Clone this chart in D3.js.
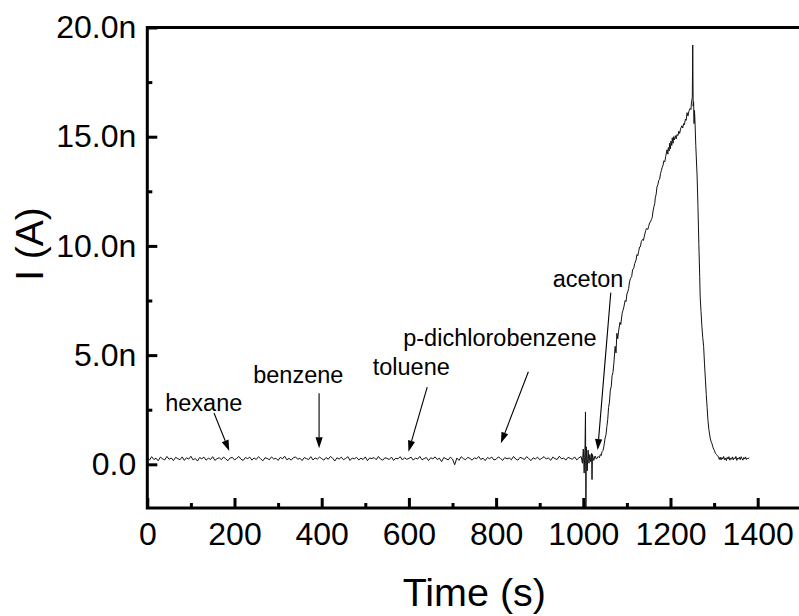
<!DOCTYPE html>
<html>
<head>
<meta charset="utf-8">
<script src="https://cdn.jsdelivr.net/npm/d3@7"></script>
<style>
  html, body { margin: 0; padding: 0; background: #fff; }
  svg { display: block; font-family: "Liberation Sans", Arial, sans-serif; }
</style>
</head>
<body>
<svg id="chart" width="799" height="616"></svg>
<script>
// Baseline current (nA) sampled every 5 s from t = 0 to t = 995 s
const baselineStep = 5;
const baselineCurrent = [
  0.31,0.19,0.35,0.22,0.28,0.16,0.33,0.25,0.20,0.36,0.23,0.29,0.17,0.32,0.26,0.21,0.34,0.18,0.30,0.24,
  0.37,0.20,0.27,0.15,0.31,0.25,0.33,0.19,0.28,0.22,0.35,0.18,0.26,0.30,0.21,0.34,0.24,0.17,0.29,0.32,
  0.20,0.27,0.36,0.23,0.18,0.31,0.26,0.33,0.19,0.29,0.22,0.35,0.25,0.16,0.30,0.27,0.21,0.34,0.24,0.28,
  0.18,0.32,0.25,0.37,0.21,0.27,0.19,0.30,0.34,0.23,0.28,0.17,0.31,0.26,0.22,0.35,0.20,0.29,0.24,0.33,
  0.26,0.19,0.31,0.23,0.36,0.28,0.15,0.30,0.24,0.33,0.21,0.27,0.35,0.18,0.29,0.25,0.32,0.20,0.28,0.22,
  0.34,0.17,0.29,0.26,0.31,0.21,0.36,0.24,0.19,0.30,0.27,0.22,0.33,0.18,0.28,0.25,0.35,0.20,0.30,0.23,
  0.27,0.33,0.19,0.29,0.24,0.36,0.21,0.26,0.31,0.17,0.30,0.25,0.34,0.22,0.28,0.12,0.31,0.26,0.20,0.33,
  0.24,-0.02,0.29,0.18,0.35,0.26,0.21,0.32,0.27,0.19,0.30,0.25,0.36,0.22,0.28,0.17,0.31,0.26,0.33,0.20,
  0.23,0.34,0.27,0.18,0.31,0.25,0.29,0.21,0.36,0.24,0.19,0.32,0.28,0.22,0.35,0.26,0.17,0.30,0.24,0.33,
  0.21,0.28,0.35,0.24,0.30,0.18,0.33,0.26,0.22,0.37,0.25,0.29,0.19,0.32,0.27,0.23,0.34,0.20,0.30,0.36
];

// Switching disturbance around t = 1000 s  [time s, current nA]
const switchingTrace = [
  [998,0.05],[1000,0.70],[1002,-0.40],[1004,0.90],[1005,2.40],[1006,-2.00],[1007,0.80],
  [1009,-0.30],[1011,0.65],[1013,0.05],[1015,0.45],[1017,0.12],[1019,0.50],[1020,-0.70],[1021,0.45],
  [1024,0.18],[1027,0.38],[1030,0.24],[1034,0.36]
];

// Aceton exposure: rise, peak and recovery  [time s, current nA]
const acetonTrace = [
  [1037,0.30],[1039,0.45],[1041,0.40],[1043,0.58],[1045,0.62],[1047,0.80],[1050,1.20],[1052,1.35],
  [1054,1.72],[1056,2.05],[1058,2.60],[1060,2.85],[1062,3.40],[1064,3.55],[1066,4.05],[1068,4.20],
  [1070,4.60],[1073,5.40],[1075,5.10],[1077,6.00],[1079,5.75],[1081,6.10],[1084,6.50],[1086,6.40],
  [1089,6.90],[1091,7.05],[1093,7.20],[1096,7.50],[1098,7.45],[1100,7.80],[1102,7.90],[1104,8.05],
  [1106,8.35],[1108,8.50],[1111,8.60],[1113,8.90],[1116,9.00],[1118,9.20],[1121,9.35],[1123,9.60],
  [1125,9.55],[1127,9.75],[1129,9.95],[1131,9.96],[1133,10.20],[1136,10.30],[1138,10.25],[1140,10.45],
  [1143,10.70],[1145,10.80],[1148,10.75],[1150,10.90],[1152,11.05],[1154,11.10],[1156,11.20],[1158,11.30],
  [1160,11.60],[1162,11.80],[1164,11.95],[1165,12.20],[1167,12.35],[1169,12.70],[1171,12.80],[1173,13.00],
  [1175,13.05],[1177,13.30],[1179,13.45],[1181,13.60],[1183,13.70],[1185,13.90],[1187,13.85],[1189,14.10],
  [1191,14.30],[1192,14.40],[1194,14.20],[1195,14.50],[1197,14.35],[1198,14.70],[1200,14.45],[1201,14.80],
  [1203,14.60],[1204,14.95],[1206,14.70],[1207,15.00],[1209,14.85],[1211,15.05],[1213,14.90],[1215,15.10],
  [1217,15.05],[1219,15.25],[1221,15.15],[1223,15.35],[1226,15.50],[1228,15.40],[1230,15.60],[1232,15.55],
  [1234,15.80],[1236,15.75],[1238,16.10],[1240,15.95],[1242,16.15],[1245,16.30],[1247,16.25],[1248,16.55],
  [1250,16.80],[1251,19.20],[1252,16.40],[1253,16.60],[1254,15.60],[1255,16.20],[1256,15.80],
  [1258,14.60],[1261,13.20],[1263,11.80],[1265,10.10],[1267,8.60],[1268,7.70],[1270,7.00],[1272,6.30],
  [1274,5.80],[1276,5.40],[1278,4.60],[1280,3.90],[1282,3.20],[1284,2.60],[1286,2.00],[1288,1.60],
  [1291,1.20],[1293,1.05],[1295,0.96],[1297,0.80],[1299,0.70],[1301,0.62],[1303,0.50],[1305,0.46],
  [1307,0.40],[1310,0.35],[1312,0.22],[1314,0.33],[1316,0.20],[1318,0.31],[1320,0.24],[1322,0.36],
  [1324,0.21],[1326,0.29],[1328,0.17],[1330,0.32],[1332,0.24],[1334,0.35],[1336,0.19],[1338,0.28],
  [1340,0.23],[1342,0.34],[1344,0.20],[1346,0.30],[1348,0.25],[1350,0.36],[1352,0.18],[1354,0.29],
  [1356,0.24],[1358,0.33],[1360,0.21],[1362,0.35],[1364,0.26],[1366,0.19],[1368,0.31],[1370,0.24],
  [1372,0.34],[1374,0.22],[1376,0.29],[1378,0.25],[1380,0.31]
];

const xMajorTicks = [0, 200, 400, 600, 800, 1000, 1200, 1400];
const xMinorTicks = [100, 300, 500, 700, 900, 1100, 1300];
const yMajorTicks = [0, 5, 10, 15, 20];
const yTickLabels = ["0.0", "5.0n", "10.0n", "15.0n", "20.0n"];
const yMinorTicks = [2.5, 7.5, 12.5, 17.5];

// Vapour labels: text anchor and arrow (tail -> head), all in data units
const vapourLabels = ["hexane", "benzene", "toluene", "p-dichlorobenzene", "aceton"];
const labelAnchors = [[41, 2.46], [243, 3.71], [517, 4.07], [587, 5.42], [930, 8.13]];
const arrowTails   = [[153, 2.35], [394, 3.25], [642, 3.53], [874, 4.24], [1063, 7.86]];
const arrowHeads   = [[188, 0.61], [394, 0.73], [599, 0.58], [811, 0.96], [1033, 0.65]];

const svg = d3.select("#chart");
const x = d3.scaleLinear().domain([0, 1500]).range([147.3, 801.3]);
const y = d3.scaleLinear().domain([-2, 20]).range([508, 27.5]);

const baselineTrace = baselineCurrent.map((v, i) => [i * baselineStep, v]);
const trace = baselineTrace.concat(switchingTrace, acetonTrace);

// Data trace
svg.append("path")
  .datum(trace)
  .attr("fill", "none")
  .attr("stroke", "#111")
  .attr("stroke-width", 1)
  .attr("stroke-linejoin", "round")
  .attr("d", d3.line().x(d => x(d[0])).y(d => y(d[1])));

// Axes: inward major + minor ticks
const fontTick = "32px";
const gx = svg.append("g").attr("transform", `translate(0,${y(-2)})`)
  .call(d3.axisBottom(x).tickValues(xMajorTicks).tickSize(-10).tickPadding(14.3).tickFormat(d3.format("d")));
const gxm = svg.append("g").attr("transform", `translate(0,${y(-2)})`)
  .call(d3.axisBottom(x).tickValues(xMinorTicks).tickSize(-5).tickFormat(""));
const gy = svg.append("g").attr("transform", `translate(${x(0)},0)`)
  .call(d3.axisLeft(y).tickValues(yMajorTicks).tickSize(-10).tickPadding(11)
    .tickFormat((d, i) => yTickLabels[i]));
const gym = svg.append("g").attr("transform", `translate(${x(0)},0)`)
  .call(d3.axisLeft(y).tickValues(yMinorTicks).tickSize(-5).tickFormat(""));

[gx, gxm, gy, gym].forEach(g => {
  g.select(".domain").remove();
  g.selectAll(".tick line").attr("stroke", "#000").attr("stroke-width", 3);
  g.selectAll(".tick text").attr("fill", "#000").style("font-size", fontTick)
    .style("font-family", "'Liberation Sans', Arial, sans-serif");
});

// Frame
svg.append("rect")
  .attr("x", x(0)).attr("y", y(20))
  .attr("width", x(1500) - x(0)).attr("height", y(-2) - y(20))
  .attr("fill", "none").attr("stroke", "#000").attr("stroke-width", 3);

// Axis titles
svg.append("text")
  .attr("x", (x(0) + x(1500)) / 2).attr("y", 606)
  .attr("text-anchor", "middle")
  .style("font-size", "39.5px")
  .text("Time (s)");

svg.append("text")
  .attr("transform", "translate(43,244) rotate(-90)")
  .attr("text-anchor", "middle")
  .style("font-size", "39px")
  .text("I (A)");

// Vapour annotations
const ann = svg.append("g");
vapourLabels.forEach((name, i) => {
  const [tx, ty] = labelAnchors[i];
  ann.append("text")
    .attr("x", x(tx)).attr("y", y(ty))
    .style("font-size", "23.5px")
    .text(name);

  const x1 = x(arrowTails[i][0]), y1 = y(arrowTails[i][1]);
  const x2 = x(arrowHeads[i][0]), y2 = y(arrowHeads[i][1]);
  const ang = Math.atan2(y2 - y1, x2 - x1);
  const len = 11, half = 3.6;
  const bx = x2 - len * Math.cos(ang), by = y2 - len * Math.sin(ang);
  ann.append("line")
    .attr("x1", x1).attr("y1", y1).attr("x2", bx).attr("y2", by)
    .attr("stroke", "#000").attr("stroke-width", 1.1);
  ann.append("path")
    .attr("d", `M${x2},${y2}L${bx - half * Math.sin(ang)},${by + half * Math.cos(ang)}L${bx + half * Math.sin(ang)},${by - half * Math.cos(ang)}Z`)
    .attr("fill", "#000");
});
</script>
</body>
</html>
